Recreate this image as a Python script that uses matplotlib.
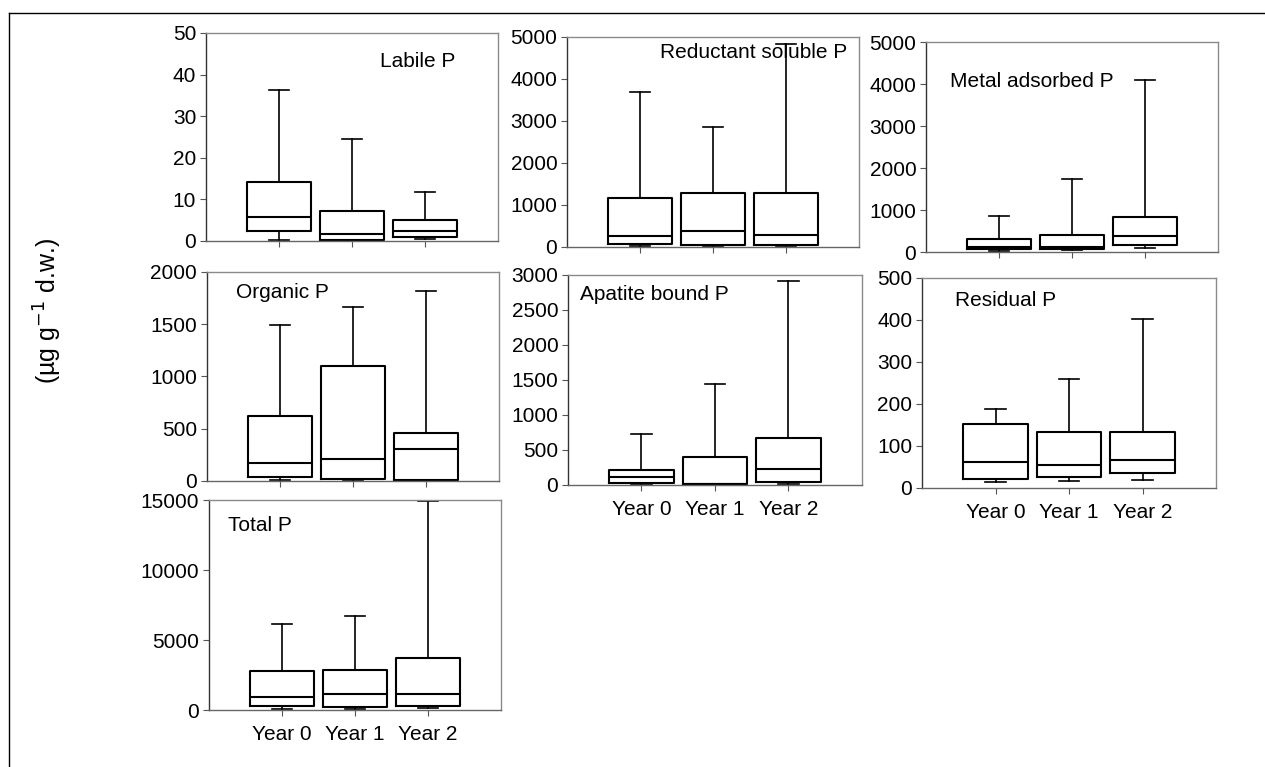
import matplotlib
matplotlib.use("Agg")
import matplotlib.pyplot as plt
from matplotlib.lines import Line2D

plt.rcParams["font.family"] = ["Liberation Sans", "DejaVu Sans"]

years = ["Year 0", "Year 1", "Year 2"]

# box statistics per fraction: [whisker low, Q1, median, Q3, whisker high] for Year 0/1/2
labile_p = [[0.3, 2.4, 5.8, 14.2, 36.4],
            [0.1, 0.2, 1.7, 7.2, 24.6],
            [0.5, 0.9, 2.4, 5.0, 11.8]]
reductant_p = [[24, 79, 270, 1167, 3683],
               [10, 40, 381, 1278, 2857],
               [24, 56, 286, 1294, 4833]]
metal_p = [[16, 80, 120, 310, 868],
           [40, 72, 120, 406, 1728],
           [96, 175, 390, 836, 4092]]
organic_p = [[10, 38, 173, 621, 1494],
             [10, 16, 208, 1101, 1667],
             [6, 10, 307, 461, 1818]]
apatite_p = [[14, 29, 114, 219, 723],
             [10, 14, 19, 399, 1441],
             [10, 38, 223, 666, 2910]]
residual_p = [[15, 22, 61, 152, 187],
              [17, 25, 55, 133, 260],
              [20, 35, 67, 134, 403]]
total_p = [[72, 310, 908, 2818, 6138],
           [96, 191, 1170, 2842, 6735],
           [167, 263, 1170, 3702, 14903]]

# (data, label, y max, y step, axes rect in figure fraction, label x/y in axes fraction, tick labels?)
panels = [
    (labile_p, "Labile P", 50, 10, [0.1628, 0.6858, 0.2308, 0.2712], (0.596, 0.865), False),
    (reductant_p, "Reductant soluble P", 5000, 1000, [0.4482, 0.6780, 0.2308, 0.2738], (0.318, 0.924), False),
    (metal_p, "Metal adsorbed P", 5000, 1000, [0.7320, 0.6714, 0.2308, 0.2738], (0.082, 0.810), False),
    (organic_p, "Organic P", 2000, 500, [0.1636, 0.3729, 0.2308, 0.2725], (0.099, 0.900), False),
    (apatite_p, "Apatite bound P", 3000, 500, [0.4490, 0.3677, 0.2324, 0.2738], (0.041, 0.905), True),
    (residual_p, "Residual P", 500, 100, [0.7289, 0.3638, 0.2324, 0.2738], (0.112, 0.895), True),
    (total_p, "Total P", 15000, 5000, [0.1652, 0.0742, 0.2308, 0.2738], (0.065, 0.881), True),
]

FS = 15

fig = plt.figure(figsize=(12.65, 7.67), dpi=100)

for data, label, ymax, ystep, rect, (tx, ty), show_years in panels:
    ax = fig.add_axes(rect)
    stats = [dict(whislo=d[0], q1=d[1], med=d[2], q3=d[3], whishi=d[4], fliers=[])
             for d in data]
    ax.bxp(stats, positions=[1, 2, 3], widths=0.88, capwidths=0.28, showfliers=False,
           boxprops=dict(color="black", linewidth=1.5),
           medianprops=dict(color="black", linewidth=1.5),
           whiskerprops=dict(color="black", linewidth=1.2),
           capprops=dict(color="black", linewidth=1.2))
    ax.set_xlim(0, 4)
    ax.set_ylim(0, ymax)
    ax.set_yticks(range(0, ymax + 1, ystep))
    ax.set_xticks([1, 2, 3])
    ax.set_xticklabels(years if show_years else [])
    ax.tick_params(axis="both", labelsize=FS, direction="out", length=4, width=0.8,
                   color="#555555")
    ax.tick_params(axis="x", pad=7)
    ax.tick_params(axis="y", pad=3)
    for side in ("top", "right"):
        ax.spines[side].set_color("#8a8a8a")
    ax.spines["left"].set_color("#333333")
    ax.spines["bottom"].set_color("#666666")
    for sp in ax.spines.values():
        sp.set_linewidth(1.0)
    ax.text(tx, ty, label, transform=ax.transAxes, ha="left", va="center", fontsize=FS)

fig.text(0.038, 0.595, "(\u00b5g g$^{-1}$ d.w.)", rotation=90, ha="center", va="center",
         fontsize=18)

# partial frame along the top and left edges
fig.add_artist(Line2D([0.0071, 1.0], [0.983, 0.983], color="black", linewidth=1.0,
                      transform=fig.transFigure))
fig.add_artist(Line2D([0.0071, 0.0071], [0.0, 0.983], color="black", linewidth=1.0,
                      transform=fig.transFigure))

fig.savefig("out.png", dpi=100)
